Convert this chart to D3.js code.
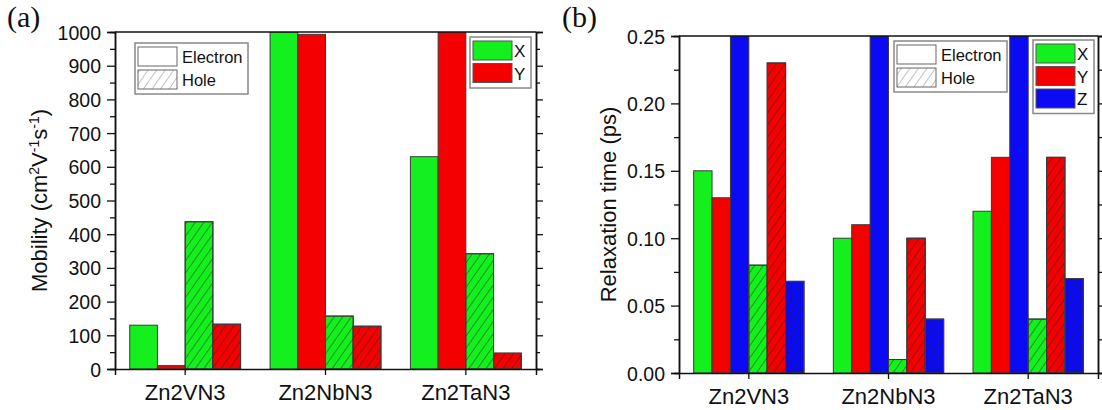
<!DOCTYPE html>
<html>
<head>
<meta charset="utf-8">
<script src="https://cdn.jsdelivr.net/npm/d3@7"></script>
<style>
  body { margin: 0; background: #fff; }
  text { font-family: "Liberation Sans", Arial, sans-serif; fill: #111; }
</style>
</head>
<body>
<svg id="chart" width="1102" height="410"></svg>
<script>
// categories + values
var categories = ["Zn2VN3", "Zn2NbN3", "Zn2TaN3"];

// (a) mobility, cm2 V-1 s-1
var mobElecX = [130, 1000, 630];
var mobElecY = [10, 993, 1000];
var mobHoleX = [437, 157, 342];
var mobHoleY = [133, 127, 47];

// (b) relaxation time, ps
var tauElecX = [0.15, 0.10, 0.12];
var tauElecY = [0.13, 0.11, 0.16];
var tauElecZ = [0.25, 0.25, 0.25];
var tauHoleX = [0.08, 0.01, 0.04];
var tauHoleY = [0.23, 0.10, 0.16];
var tauHoleZ = [0.068, 0.04, 0.07];

var mobTicks = [0, 100, 200, 300, 400, 500, 600, 700, 800, 900, 1000];
var tauTicks = [0, 0.05, 0.10, 0.15, 0.20, 0.25];

var green = "#14f01e", red = "#f50000", blue = "#0a0af5";

var svg = d3.select("#chart");
var defs = svg.append("defs");

defs.append("pattern")
    .attr("id", "hatch")
    .attr("patternUnits", "userSpaceOnUse")
    .attr("width", 7).attr("height", 7)
    .attr("patternTransform", "rotate(35)")
  .append("line")
    .attr("x1", 0).attr("y1", 0).attr("x2", 0).attr("y2", 7)
    .attr("stroke", "#222").attr("stroke-width", 0.9);

defs.append("pattern")
    .attr("id", "hatchGrey")
    .attr("patternUnits", "userSpaceOnUse")
    .attr("width", 7).attr("height", 7)
    .attr("patternTransform", "rotate(35)")
  .append("line")
    .attr("x1", 0).attr("y1", 0).attr("x2", 0).attr("y2", 7)
    .attr("stroke", "#777").attr("stroke-width", 0.9);

var drawPanel = function(p)
{
  var g = svg.append("g");

  var x0 = d3.scaleBand().domain(categories).range([p.left, p.right]);
  var bw = x0.bandwidth();
  var gw = bw * 0.79;
  var keys = p.series.map(function(s, i) { return i; });
  var x1 = d3.scaleBand().domain(keys).range([(bw - gw) / 2, (bw + gw) / 2]);

  var y = d3.scaleLinear().domain(p.domain).range([p.bottom, p.top]);

  var clipId = "clip" + p.letter;
  defs.append("clipPath").attr("id", clipId)
    .append("rect")
      .attr("x", p.left).attr("y", p.top)
      .attr("width", p.right - p.left).attr("height", p.bottom - p.top);

  var bars = g.append("g").attr("clip-path", "url(#" + clipId + ")");

  p.series.forEach(function(s, si) {
    var sel = bars.selectAll(".s" + si)
      .data(s.values)
      .enter();
    sel.append("rect")
      .attr("x", function(d, i) { return x0(categories[i]) + x1(si); })
      .attr("y", function(d) { return y(d); })
      .attr("width", x1.bandwidth())
      .attr("height", function(d) { return y(0) - y(d); })
      .attr("fill", s.color)
      .attr("stroke", "#3a3a3a").attr("stroke-width", 1);
    if (s.hole) {
      sel.append("rect")
        .attr("x", function(d, i) { return x0(categories[i]) + x1(si); })
        .attr("y", function(d) { return y(d); })
        .attr("width", x1.bandwidth())
        .attr("height", function(d) { return y(0) - y(d); })
        .attr("fill", "url(#hatch)")
        .attr("stroke", "#3a3a3a").attr("stroke-width", 1);
    }
  });

  // left axis, major + minor ticks outward
  var left = g.append("g").attr("transform", "translate(" + p.left + ",0)")
    .call(d3.axisLeft(y).tickValues(p.ticks).tickFormat(p.fmt).tickSize(8).tickPadding(6));
  left.append("g").call(d3.axisLeft(y).tickValues(p.minor).tickFormat("").tickSize(5));

  var right = g.append("g").attr("transform", "translate(" + p.right + ",0)")
    .call(d3.axisRight(y).tickValues(p.ticks).tickFormat("").tickSize(7));
  right.append("g").call(d3.axisRight(y).tickValues(p.minor).tickFormat("").tickSize(4));

  var bottom = g.append("g").attr("transform", "translate(0," + p.bottom + ")")
    .call(d3.axisBottom(x0).tickSize(6).tickPadding(9));

  g.append("line")
    .attr("x1", p.left).attr("x2", p.right)
    .attr("y1", p.top).attr("y2", p.top)
    .attr("stroke", "#111").attr("stroke-width", 1.5);

  g.selectAll(".domain").attr("stroke", "#111").attr("stroke-width", 1.5);
  g.selectAll(".tick line").attr("stroke", "#111").attr("stroke-width", 1.3);
  left.selectAll(".tick text").style("font-size", "19.5px").attr("dy", "0.36em");
  bottom.selectAll(".tick text").style("font-size", "22px").attr("dy", "0.71em");

  // y title
  var t = g.append("text")
    .attr("transform", "translate(" + p.titleX + "," + ((p.top + p.bottom) / 2) + ") rotate(-90)")
    .attr("text-anchor", "middle")
    .style("font-size", "22px");
  p.title(t);

  g.append("text")
    .attr("x", p.letterX).attr("y", 27)
    .style("font-family", "'Liberation Serif', 'Times New Roman', serif")
    .style("font-size", "30px")
    .text("(" + p.letter + ")");

  // electron / hole legend
  var lg = g.append("g");
  lg.append("rect")
    .attr("x", p.eh.x).attr("y", p.eh.y).attr("width", 113).attr("height", 51)
    .attr("fill", "#fff").attr("stroke", "#888").attr("stroke-width", 1.5);
  [["Electron", "#fff"], ["Hole", "url(#hatchGrey)"]].forEach(function(e, i) {
    lg.append("rect")
      .attr("x", p.eh.x + 3).attr("y", p.eh.y + 4 + i * 23).attr("width", 39).attr("height", 19)
      .attr("fill", e[1]).attr("stroke", "#666").attr("stroke-width", 1);
    lg.append("text")
      .attr("x", p.eh.x + 47).attr("y", p.eh.y + 20 + i * 23)
      .style("font-size", "16.5px")
      .text(e[0]);
  });

  // direction legend
  var dl = g.append("g");
  var dirs = p.dirs;
  dl.append("rect")
    .attr("x", p.dl.x).attr("y", p.dl.y).attr("width", 61).attr("height", 6 + dirs.length * 22.5)
    .attr("fill", "#fff").attr("stroke", "#888").attr("stroke-width", 1.5);
  dirs.forEach(function(d, i) {
    dl.append("rect")
      .attr("x", p.dl.x + 3).attr("y", p.dl.y + 4 + i * 22.5).attr("width", 39).attr("height", 19)
      .attr("fill", d[1]).attr("stroke", "#555").attr("stroke-width", 1);
    dl.append("text")
      .attr("x", p.dl.x + 44).attr("y", p.dl.y + 20 + i * 22.5)
      .style("font-size", "17px")
      .text(d[0]);
  });
};

drawPanel({
  letter: "a", letterX: 7,
  left: 115, right: 536, top: 32, bottom: 369,
  domain: [0, 1000], ticks: mobTicks,
  minor: d3.range(50, 1000, 100),
  fmt: d3.format("d"),
  series: [
    { values: mobElecX, color: green },
    { values: mobElecY, color: red },
    { values: mobHoleX, color: green, hole: true },
    { values: mobHoleY, color: red, hole: true }
  ],
  titleX: 47,
  title: function(t) {
    t.append("tspan").text("Mobility (cm");
    t.append("tspan").attr("dy", -8).style("font-size", "14px").text("2");
    t.append("tspan").attr("dy", 8).text("V");
    t.append("tspan").attr("dy", -8).style("font-size", "14px").text("-1");
    t.append("tspan").attr("dy", 8).text("s");
    t.append("tspan").attr("dy", -8).style("font-size", "14px").text("-1");
    t.append("tspan").attr("dy", 8).text(")");
  },
  eh: { x: 135, y: 43 },
  dl: { x: 470, y: 37 },
  dirs: [["X", green], ["Y", red]]
});

drawPanel({
  letter: "b", letterX: 562,
  left: 679, right: 1098, top: 36, bottom: 373,
  domain: [0, 0.25], ticks: tauTicks,
  minor: [0.025, 0.075, 0.125, 0.175, 0.225],
  fmt: d3.format(".2f"),
  series: [
    { values: tauElecX, color: green },
    { values: tauElecY, color: red },
    { values: tauElecZ, color: blue },
    { values: tauHoleX, color: green, hole: true },
    { values: tauHoleY, color: red, hole: true },
    { values: tauHoleZ, color: blue, hole: true }
  ],
  titleX: 616,
  title: function(t) { t.text("Relaxation time (ps)"); },
  eh: { x: 894, y: 41 },
  dl: { x: 1033, y: 40 },
  dirs: [["X", green], ["Y", red], ["Z", blue]]
});
</script>
</body>
</html>
